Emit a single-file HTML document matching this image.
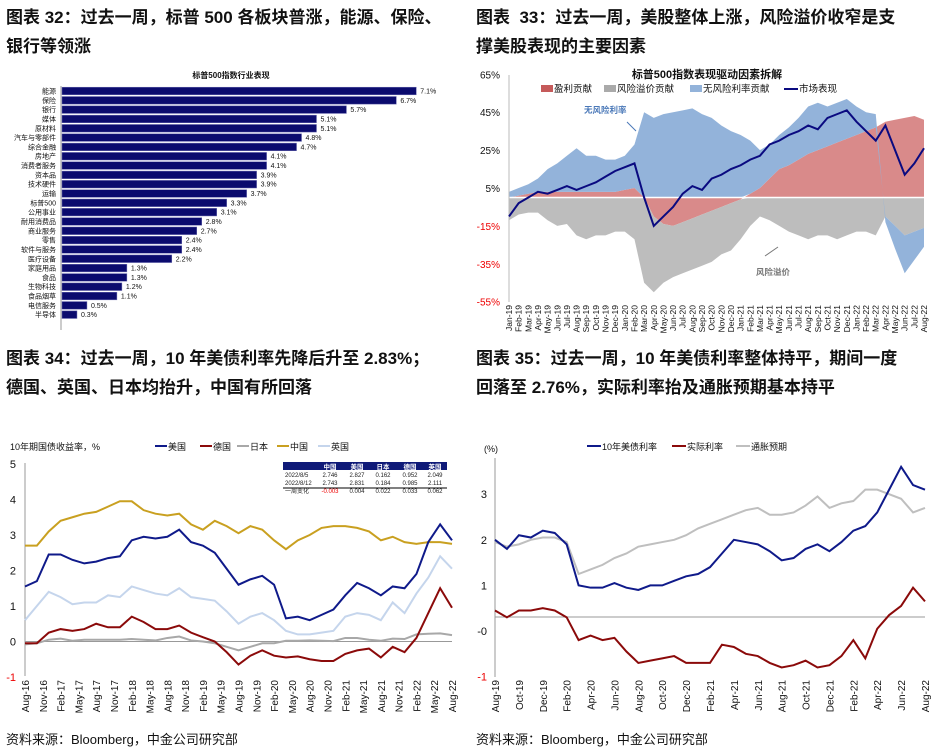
<!DOCTYPE html>
<html><head><meta charset="utf-8">
<style>
body{margin:0;background:#fff;width:938px;height:750px;overflow:hidden;font-family:"Liberation Sans","Noto Sans CJK SC",sans-serif}
.t{position:absolute;font-size:17px;font-weight:bold;color:#111;line-height:29px;white-space:nowrap}
.src{position:absolute;font-size:13px;color:#111;top:729px}
svg{position:absolute;left:0;top:0}
</style></head><body>
<div class="t" style="left:6px;top:3px">图表 32：过去一周，标普 500 各板块普涨，能源、保险、<br>银行等领涨</div>
<div class="t" style="left:476px;top:3px">图表 &nbsp;33：过去一周，美股整体上涨，风险溢价收窄是支<br>撑美股表现的主要因素</div>
<div class="t" style="left:6px;top:344px">图表 34：过去一周，10 年美债利率先降后升至 2.83%；<br>德国、英国、日本均抬升，中国有所回落</div>
<div class="t" style="left:476px;top:344px">图表 35：过去一周，10 年美债利率整体持平，期间一度<br>回落至 2.76%，实际利率抬及通胀预期基本持平</div>
<div class="src" style="left:6px">资料来源：Bloomberg，中金公司研究部</div>
<div class="src" style="left:476px">资料来源：Bloomberg，中金公司研究部</div>
<svg id="s" width="938" height="750"></svg>
<script>
// Chart 32
const sectors=["能源","保险","银行","媒体","原材料","汽车与零部件","综合金融","房地产","消费者服务","资本品","技术硬件","运输","标普500","公用事业","耐用消费品","商业服务","零售","软件与服务","医疗设备","家庭用品","食品","生物科技","食品烟草","电信服务","半导体"];
const sectorVals=[7.1,6.7,5.7,5.1,5.1,4.8,4.7,4.1,4.1,3.9,3.9,3.7,3.3,3.1,2.8,2.7,2.4,2.4,2.2,1.3,1.3,1.2,1.1,0.5,0.3];
// Chart 33 (monthly Jan-19..Aug-22)
const months33=["Jan-19","Feb-19","Mar-19","Apr-19","May-19","Jun-19","Jul-19","Aug-19","Sep-19","Oct-19","Nov-19","Dec-19","Jan-20","Feb-20","Mar-20","Apr-20","May-20","Jun-20","Jul-20","Aug-20","Sep-20","Oct-20","Nov-20","Dec-20","Jan-21","Feb-21","Mar-21","Apr-21","May-21","Jun-21","Jul-21","Aug-21","Sep-21","Oct-21","Nov-21","Dec-21","Jan-22","Feb-22","Mar-22","Apr-22","May-22","Jun-22","Jul-22","Aug-22"];
const earnings=[0,1,2,3,3,3,3,3,3,3,3,3,4,5,0,-10,-14,-15,-13,-11,-9,-7,-5,-3,-1,2,5,10,15,17,20,23,25,27,29,31,33,35,37,40,41,42,43,41];
const riskPremium=[-12,-9,-8,-8,-12,-15,-14,-20,-22,-20,-20,-18,-18,-22,-45,-40,-31,-27,-27,-27,-27,-27,-25,-25,-21,-15,-10,-12,-15,-18,-20,-22,-20,-20,-22,-20,-18,-18,-20,-10,-15,-20,-18,-16];
const riskFree=[3,4,5,7,12,15,19,23,19,19,17,17,18,23,45,42,44,45,46,47,44,42,38,35,33,28,20,18,18,20,22,25,25,21,21,21,15,10,7,-3,-12,-20,-15,-10];
const market=[-10,-3,0,3,2,4,6,4,6,8,11,14,16,18,0,-15,-10,-5,2,6,4,10,12,15,17,20,22,28,30,33,35,38,36,42,44,46,40,35,30,38,25,12,18,26];
const ticks33=[65,45,25,5,-15,-35,-55];
// Chart 34 (bi-monthly Aug-16..Aug-22)
const labels34=["Aug-16","Nov-16","Feb-17","May-17","Aug-17","Nov-17","Feb-18","May-18","Aug-18","Nov-18","Feb-19","May-19","Aug-19","Nov-19","Feb-20","May-20","Aug-20","Nov-20","Feb-21","May-21","Aug-21","Nov-21","Feb-22","May-22","Aug-22"];
const us34=[1.55,1.7,2.45,2.45,2.3,2.2,2.25,2.35,2.4,2.85,2.95,2.9,2.95,3.15,2.8,2.7,2.5,2.05,1.6,1.75,1.85,1.6,0.65,0.7,0.6,0.75,0.9,1.3,1.65,1.5,1.3,1.55,1.5,1.9,2.8,3.3,2.85];
const de34=[-0.05,-0.05,0.25,0.35,0.3,0.35,0.5,0.4,0.4,0.7,0.55,0.35,0.35,0.45,0.25,0.12,0,-0.3,-0.65,-0.4,-0.25,-0.4,-0.45,-0.42,-0.5,-0.55,-0.55,-0.35,-0.25,-0.2,-0.45,-0.15,-0.3,0.1,0.8,1.5,0.95];
const jp34=[-0.08,-0.05,0.05,0.08,0.02,0.05,0.05,0.05,0.05,0.07,0.05,0.03,0.1,0.14,0.03,0,-0.05,-0.15,-0.25,-0.15,-0.05,-0.05,0.02,0.02,0.03,0.02,0.01,0.1,0.1,0.05,0.02,0.08,0.07,0.2,0.22,0.23,0.18];
const cn34=[2.7,2.7,3.1,3.4,3.5,3.6,3.65,3.8,3.95,3.95,3.7,3.6,3.55,3.6,3.3,3.15,3.4,3.25,3.05,3.25,3.15,2.85,2.6,2.85,3.0,3.2,3.25,3.25,3.2,3.1,2.85,2.95,2.8,2.75,2.8,2.8,2.75];
const uk34=[0.6,1.0,1.4,1.25,1.05,1.1,1.1,1.3,1.25,1.55,1.45,1.35,1.3,1.5,1.25,1.2,1.15,0.85,0.5,0.7,0.8,0.6,0.3,0.2,0.2,0.25,0.3,0.7,0.8,0.75,0.6,1.1,0.8,1.35,1.8,2.4,2.05];
const ticks34=[5,4,3,2,1,0,-1];
// Chart 35 (monthly Aug-19..Aug-22)
const labels35=["Aug-19","Oct-19","Dec-19","Feb-20","Apr-20","Jun-20","Aug-20","Oct-20","Dec-20","Feb-21","Apr-21","Jun-21","Aug-21","Oct-21","Dec-21","Feb-22","Apr-22","Jun-22","Aug-22"];
const us35=[2.0,1.8,2.1,2.05,2.2,2.15,1.9,1.0,0.95,0.95,1.05,0.95,0.9,1.0,1.0,1.1,1.2,1.25,1.4,1.7,2.0,1.95,1.9,1.75,1.55,1.6,1.8,1.9,1.75,1.95,2.2,2.3,2.6,3.1,3.6,3.2,3.1];
const real35=[0.45,0.3,0.45,0.45,0.5,0.45,0.3,-0.2,-0.1,-0.2,-0.15,-0.45,-0.7,-0.65,-0.6,-0.55,-0.7,-0.7,-0.7,-0.3,-0.35,-0.5,-0.55,-0.7,-0.8,-0.75,-0.65,-0.8,-0.75,-0.55,-0.2,-0.6,0.05,0.35,0.55,0.95,0.65];
const infl35=[1.95,1.85,1.9,2.0,2.05,2.05,1.95,1.25,1.35,1.45,1.6,1.7,1.85,1.9,1.95,2.0,2.1,2.25,2.35,2.45,2.55,2.65,2.7,2.55,2.55,2.6,2.75,2.95,2.7,2.8,2.85,3.1,3.1,3.0,2.9,2.6,2.7];
const tickLabels35=["3","2","1","-0","-1"];
const tickVals35=[3,2,1,0,-1];

const S=document.getElementById('s');const NS="http://www.w3.org/2000/svg";
function el(tag,at,txt){const e=document.createElementNS(NS,tag);for(const k in at)e.setAttribute(k,at[k]);if(txt!=null)e.textContent=txt;S.appendChild(e);return e;}
function T(x,y,s,sz,fill,anchor,rot,w){const at={x:x,y:y,'font-size':sz,fill:fill||'#111','text-anchor':anchor||'start'};if(rot)at.transform=`rotate(${rot} ${x} ${y})`;if(w)at['font-weight']=w;return el('text',at,s);}

// ---- Chart 32
{const x0=62,k=49.9,y0=91,st=9.32;
let t=T(231,78,"标普500指数行业表现",8,'#111','middle',0,'bold');
let a=el('line',{x1:61,y1:86,x2:61,y2:330,stroke:'#999','stroke-width':1});
sectors.forEach((s,i)=>{const y=y0+i*st;
let b=el('rect',{x:x0,y:y-3.8,width:sectorVals[i]*k,height:7.6,fill:'#0b0b6e',stroke:'#6b6bb0','stroke-width':0.5});

let l=T(56,y+2.5,s,7,'#111','end');
let v=T(x0+sectorVals[i]*k+4,y+2.5,sectorVals[i].toFixed(1)+"%",7,'#111');});}

// ---- Chart 33
{const X0=509,X1=924,n=months33.length,xs=i=>X0+i*(X1-X0)/(n-1),ys=v=>197.5-v*37.9/20;
const pos=[earnings,riskFree],cols={e:'#d98a8a',r:'#bdbdbd',f:'#93b3da'};
// stacking
let up=new Array(n).fill(0),dn=new Array(n).fill(0);
function band(arr,col,name){let top=[],bot=[];arr.forEach((v,i)=>{if(v>=0){bot.push([xs(i),ys(up[i])]);up[i]+=v;top.push([xs(i),ys(up[i])]);}else{bot.push([xs(i),ys(dn[i])]);dn[i]+=v;top.push([xs(i),ys(dn[i])]);}});
const pts=top.concat(bot.reverse()).map(p=>p.join(',')).join(' ');let p=el('polygon',{points:pts,fill:col,stroke:'none'});}
band(earnings,cols.e,'earnings-area');band(riskPremium,cols.r,'risk-premium-area');band(riskFree,cols.f,'risk-free-area');
el('line',{x1:X0,y1:197.5,x2:X1,y2:197.5,stroke:'#fff','stroke-width':1.5});
let ax=el('line',{x1:X0,y1:75,x2:X0,y2:302,stroke:'#bbb'});
ticks33.forEach(v=>{let t=T(500,ys(v)+4,v+"%",10,v<0?'#e00':'#111','end');});
let ml=el('polyline',{points:market.map((v,i)=>xs(i)+','+ys(v)).join(' '),fill:'none',stroke:'#0a0a80','stroke-width':2});
months33.forEach((m,i)=>{let t=T(xs(i)+3,305,m,8.5,'#111','end',-90);});
let tt=T(707,78,"标普500指数表现驱动因素拆解",11,'#111','middle',0,'bold');
[[553,'#c55a5a','rect',"盈利贡献"],[616,'#aaa','rect',"风险溢价贡献"],[702,'#93b3da','rect',"无风险利率贡献"],[798,'#0a0a80','line',"市场表现"]].forEach(d=>{
 if(d[2]=='rect')el('rect',{x:d[0]-12,y:85,width:12,height:7,fill:d[1]});else el('line',{x1:d[0]-14,y1:89,x2:d[0],y2:89,stroke:d[1],'stroke-width':2});
 let t=T(d[0]+1,92,d[3],9.5,'#111');});
T(584,113,"无风险利率",8.5,'#4a78b8','start',0,'bold');el('line',{x1:627,y1:122,x2:636,y2:131,stroke:'#4a78b8'});
T(756,275,"风险溢价",8.5,'#777','start',0,'bold');el('line',{x1:765,y1:256,x2:778,y2:247,stroke:'#777'});}

// ---- Chart 34
{const X0=25,X1=452,ys=v=>641.5-v*35.5,nm=72,xs=i=>X0+i*2*(X1-X0)/nm;
let ax=el('line',{x1:X0,y1:463,x2:X0,y2:676,stroke:'#999'});
el('line',{x1:X0,y1:ys(0),x2:X1,y2:ys(0),stroke:'#999'});
ticks34.forEach(v=>{let t=T(16,ys(v)+4,String(v),11,v<0?'#e00':'#111','end');});
labels34.forEach((l,i)=>{let x=X0+i*3*(X1-X0)/nm;let t=T(x+4,680,l,10,'#111','end',-90);});
[[uk34,'#c5d5ec','uk-line'],[jp34,'#a8a8a8','japan-line'],[cn34,'#c9a020','china-line'],[de34,'#8b0a0a','germany-line'],[us34,'#0f1a8a','us-line']].forEach(d=>{
 let p=el('polyline',{points:d[0].map((v,i)=>xs(i)+','+ys(v)).join(' '),fill:'none',stroke:d[1],'stroke-width':2});});
T(10,450,"10年期国债收益率，%",9,'#111');
[[155,'#0f1a8a',"美国"],[200,'#8b0a0a',"德国"],[237,'#a8a8a8',"日本"],[277,'#c9a020',"中国"],[318,'#c5d5ec',"英国"]].forEach(d=>{
 el('line',{x1:d[0],y1:446,x2:d[0]+12,y2:446,stroke:d[1],'stroke-width':2});let t=T(d[0]+13,450,d[2],9,'#111');});
// table
el('rect',{x:283,y:462,width:164,height:8,fill:'#0f1a78'});
const cx=[330,357,383,410,435];["中国","美国","日本","德国","英国"].forEach((h,i)=>T(cx[i],469,h,6.5,'#fff','middle',0,'bold'));
const rows=[["2022/8/5","2.746","2.827","0.162","0.952","2.049"],["2022/8/12","2.743","2.831","0.184","0.985","2.111"],["一周变化","-0.003","0.004","0.022","0.033","0.062"]];
rows.forEach((r,j)=>{const y=477+j*8;T(285,y,r[0],6,'#222');r.slice(1).forEach((c,i)=>T(cx[i],y,c,6,(j==2&&i==0)?'#e00':'#222','middle'));});
el('line',{x1:283,y1:488,x2:447,y2:488,stroke:'#000','stroke-width':1});}

// ---- Chart 35
{const X0=495,X1=925,ys=v=>631-v*45.6,xs=i=>X0+i*(X1-X0)/36;
let ax=el('line',{x1:X0,y1:458,x2:X0,y2:677,stroke:'#999'});
let xa=el('line',{x1:X0,y1:617,x2:X1,y2:617,stroke:'#999'});
tickVals35.forEach((v,i)=>{let t=T(487,ys(v)+4,tickLabels35[i],11,v<0?'#e00':'#111','end');});
labels35.forEach((l,i)=>{let t=T(xs(i*2)+4,680,l,10,'#111','end',-90);});
[[infl35,'#bfbfbf','inflation-expectation-line'],[us35,'#0f1a8a','us10y-line'],[real35,'#8b0a0a','real-rate-line']].forEach(d=>{
 let p=el('polyline',{points:d[0].map((v,i)=>xs(i)+','+ys(v)).join(' '),fill:'none',stroke:d[1],'stroke-width':2});});
T(484,452,"(%)",9,'#111');
[[601,'#0f1a8a',"10年美债利率"],[686,'#8b0a0a',"实际利率"],[750,'#bfbfbf',"通胀预期"]].forEach(d=>{
 el('line',{x1:d[0]-14,y1:446,x2:d[0],y2:446,stroke:d[1],'stroke-width':2});let t=T(d[0]+1,450,d[2],9,'#111');});}
</script>
</body></html>
